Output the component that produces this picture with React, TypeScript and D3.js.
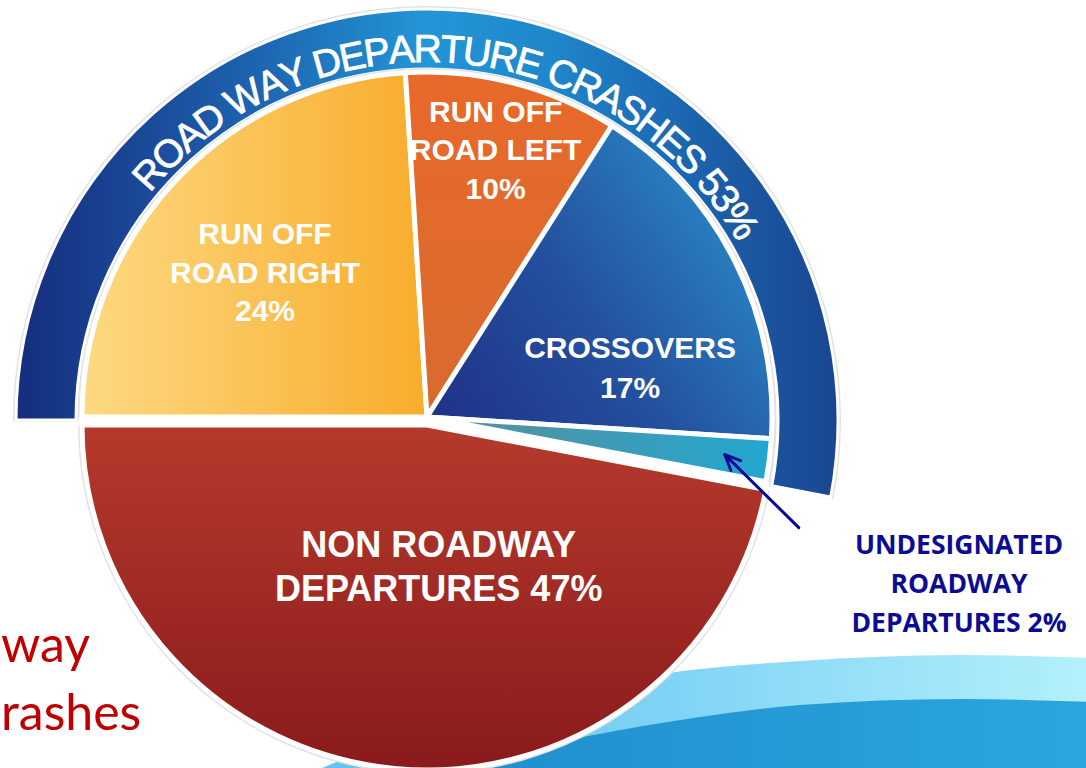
import React, { useMemo } from "react";
import * as d3 from "d3";

// ---------- data ----------
const CATEGORIES = [
  "RUN OFF ROAD RIGHT",
  "RUN OFF ROAD LEFT",
  "CROSSOVERS",
  "UNDESIGNATED ROADWAY DEPARTURES",
  "NON ROADWAY DEPARTURES",
];
const VALUES = [24, 10, 17, 2, 47];
const NAME_LINES = [
  ["RUN OFF", "ROAD RIGHT"],
  ["RUN OFF", "ROAD LEFT"],
  ["CROSSOVERS"],
  ["UNDESIGNATED", "ROADWAY", "DEPARTURES"],
  ["NON ROADWAY", "DEPARTURES"],
];
const IS_ROADWAY = [true, true, true, true, false];
const BAND_TITLE = "ROAD WAY DEPARTURE CRASHES";
const SIDE_TITLE = ["way", "rashes"];

// ---------- layout / style ----------
const W = 1086;
const H = 768;
const CX = 427;
const CY_TOP = 417;
const CY_BOT = 425;
const R = 345;
const BAND_CY = 420;
const BAND_IN = 351;
const BAND_OUT = 411;
const BAND_TEXT_R = 358;
const BAND_FONT_SIZE = 39;
const BAND_LETTER_SPACING = -2;
const BAND_TEXT_SHIFT = -0.01; // radians, centre of the band title relative to band middle

const SLICE_FILL = ["url(#gYellow)", "url(#gOrange)", "url(#gBlue)", "url(#gTeal)", "url(#gRed)"];
// where each in-pie label sits: fraction through slice angle, fraction of radius
const LABEL_PLACE = [
  { a: 0.484, r: 0.63, size: 30, lh: 38.5, pctInline: false },
  { a: 0.5, r: 0.8, size: 30, lh: 38.5, pctInline: false },
  { a: 0.716, r: 0.606, size: 30, lh: 40, pctInline: false },
  null,
  { a: 0.44, r: 0.41, size: 36, lh: 44, pctInline: true },
];
const CALLOUT_INDEX = 3;
const NAVY = "#0b0b94";
const LABEL_FONT = "'Liberation Sans', Arial, Helvetica, sans-serif";

const LIGHT_WAVE: [number, number][] = [
  [250, 800], [420, 730], [560, 692], [667, 673], [800, 661], [960, 655], [1090, 658],
];
const DARK_WAVE: [number, number][] = [
  [330, 800], [460, 762], [583, 737], [700, 717], [800, 705], [960, 699], [1090, 702],
];

function polar(angle: number, r: number): [number, number] {
  return [r * Math.sin(angle), -r * Math.cos(angle)];
}

function measureChars(str: string, font: string): number[] {
  let ctx: CanvasRenderingContext2D | null = null;
  try {
    ctx = document.createElement("canvas").getContext("2d");
  } catch (e) {
    ctx = null;
  }
  return str.split("").map((ch) => {
    if (ctx) {
      ctx.font = font;
      return ctx.measureText(ch).width;
    }
    return ch === " " ? 0.28 * BAND_FONT_SIZE : 0.68 * BAND_FONT_SIZE;
  });
}

export default function App() {
  const total = d3.sum(VALUES);
  const pie = d3
    .pie<number>()
    .sort(null)
    .value((d) => d)
    .startAngle(-Math.PI / 2)
    .endAngle(1.5 * Math.PI);
  const arcsData = pie(VALUES);

  const sliceArc = d3.arc<d3.PieArcDatum<number>>().innerRadius(0).outerRadius(R);
  const rimArc = d3.arc<d3.PieArcDatum<number>>().innerRadius(R).outerRadius(R + 4);

  const roadwaySum = d3.sum(VALUES.filter((_, i) => IS_ROADWAY[i]));
  const bandStart = -Math.PI / 2;
  const bandEnd = bandStart + (2 * Math.PI * roadwaySum) / total;
  const bandArc = d3
    .arc<any>()
    .innerRadius(BAND_IN)
    .outerRadius(BAND_OUT)
    .startAngle(bandStart)
    .endAngle(bandEnd);
  const bandRim = d3
    .arc<any>()
    .innerRadius(BAND_IN - 3)
    .outerRadius(BAND_OUT + 3)
    .startAngle(bandStart - 0.004)
    .endAngle(bandEnd + 0.004);

  const bandLabel = `${BAND_TITLE} ${roadwaySum}%`;
  const bandChars = useMemo(() => {
    const widths = measureChars(bandLabel, `${BAND_FONT_SIZE}px 'Liberation Sans', Arial, sans-serif`);
    const L = d3.sum(widths) + BAND_LETTER_SPACING * (widths.length - 1);
    const thetaC = (bandStart + bandEnd) / 2 + BAND_TEXT_SHIFT;
    let s = thetaC * BAND_TEXT_R - L / 2;
    return bandLabel.split("").map((ch, i) => {
      const mid = s + widths[i] / 2;
      s += widths[i] + BAND_LETTER_SPACING;
      const th = mid / BAND_TEXT_R;
      const [x, y] = polar(th, BAND_TEXT_R);
      return { ch, x, y, rot: (th * 180) / Math.PI };
    });
  }, [bandLabel, bandStart, bandEnd]);

  const waveArea = d3
    .area<[number, number]>()
    .x((d) => d[0])
    .y0(H + 20)
    .y1((d) => d[1])
    .curve(d3.curveMonotoneX);

  // callout arrow
  const cd = arcsData[CALLOUT_INDEX];
  const cMid = (cd.startAngle + cd.endAngle) / 2;
  const [tx, ty] = polar(cMid, R * 0.87);
  const tipX = CX + tx;
  const tipY = CY_TOP + ty;
  const startX = tipX + 74;
  const startY = tipY + 73;
  const ang = Math.atan2(tipY - startY, tipX - startX);
  const headLen = 17;
  const headSpread = 0.42;
  const h1 = [tipX - headLen * Math.cos(ang - headSpread), tipY - headLen * Math.sin(ang - headSpread)];
  const h2 = [tipX - headLen * Math.cos(ang + headSpread), tipY - headLen * Math.sin(ang + headSpread)];

  const calloutLines = [...NAME_LINES[CALLOUT_INDEX]];
  calloutLines[calloutLines.length - 1] += ` ${VALUES[CALLOUT_INDEX]}%`;

  return (
    <svg
      width={W}
      height={H}
      viewBox={`0 0 ${W} ${H}`}
      style={{ position: "absolute", left: 0, top: 0, background: "#fff" }}
    >
      <defs>
        {/* gradients are in the local (centre-translated) coordinates of the pie groups */}
        <linearGradient id="gBand" gradientUnits="userSpaceOnUse" x1={-411} y1={0} x2={411} y2={0}>
          <stop offset="0" stopColor="#152d7d" />
          <stop offset="0.16" stopColor="#1a4a99" />
          <stop offset="0.3" stopColor="#1d66b1" />
          <stop offset="0.5" stopColor="#2396d8" />
          <stop offset="0.65" stopColor="#1f87cb" />
          <stop offset="0.78" stopColor="#1c6cb7" />
          <stop offset="0.9" stopColor="#1b55a0" />
          <stop offset="1" stopColor="#1a4690" />
        </linearGradient>
        <linearGradient id="gYellow" gradientUnits="userSpaceOnUse" x1={-345} y1={0} x2={0} y2={0}>
          <stop offset="0" stopColor="#fdd982" />
          <stop offset="1" stopColor="#f8ac2b" />
        </linearGradient>
        <linearGradient id="gOrange" gradientUnits="userSpaceOnUse" x1={0} y1={-345} x2={0} y2={0}>
          <stop offset="0" stopColor="#e8692a" />
          <stop offset="1" stopColor="#d86a2e" />
        </linearGradient>
        <linearGradient id="gBlue" gradientUnits="userSpaceOnUse" x1={10} y1={0} x2={343} y2={-230}>
          <stop offset="0" stopColor="#1f3388" />
          <stop offset="0.45" stopColor="#24509f" />
          <stop offset="1" stopColor="#2b90cd" />
        </linearGradient>
        <linearGradient id="gTeal" gradientUnits="userSpaceOnUse" x1={10} y1={0} x2={343} y2={0}>
          <stop offset="0" stopColor="#5b8e9a" />
          <stop offset="1" stopColor="#22a7d0" />
        </linearGradient>
        <linearGradient id="gRed" gradientUnits="userSpaceOnUse" x1={0} y1={0} x2={0} y2={343}>
          <stop offset="0" stopColor="#b53a2c" />
          <stop offset="1" stopColor="#8a1a1c" />
        </linearGradient>
        <linearGradient id="gLight" gradientUnits="userSpaceOnUse" x1={250} y1={0} x2={1086} y2={0}>
          <stop offset="0" stopColor="#5dbfee" />
          <stop offset="0.5" stopColor="#7fd3f5" />
          <stop offset="1" stopColor="#b3f0fb" />
        </linearGradient>
        <linearGradient id="gDark" gradientUnits="userSpaceOnUse" x1={300} y1={0} x2={1086} y2={0}>
          <stop offset="0" stopColor="#1f88ca" />
          <stop offset="1" stopColor="#2aa6dd" />
        </linearGradient>
      </defs>

      {/* background waves */}
      <path d={waveArea(LIGHT_WAVE) || ""} fill="url(#gLight)" />
      <path d={waveArea(DARK_WAVE) || ""} fill="url(#gDark)" />

      {/* side title fragments */}
      <g fontFamily="Lato, 'Open Sans', sans-serif" fontSize={50} fill="#c00000">
        <text x={1} y={662}>{SIDE_TITLE[0]}</text>
        <text x={1} y={730}>{SIDE_TITLE[1]}</text>
      </g>

      {/* outer band: roadway departure total */}
      <g transform={`translate(${CX},${BAND_CY})`}>
        <path d={bandRim({}) || ""} fill="#e2e2e2" />
        <path d={bandArc({}) || ""} fill="url(#gBand)" stroke="#fff" strokeWidth={3} />
        <g
          fontFamily={LABEL_FONT}
          fontSize={BAND_FONT_SIZE}
          fill="#fff"
          stroke="#fff"
          strokeWidth={0.8}
          textAnchor="middle"
        >
          {bandChars.map((c, i) =>
            c.ch === " " ? null : (
              <text key={i} transform={`translate(${c.x},${c.y}) rotate(${c.rot})`}>
                {c.ch}
              </text>
            )
          )}
        </g>
      </g>

      {/* pie rim shadow */}
      {arcsData.map((d, i) => {
        const cy = IS_ROADWAY[i] ? CY_TOP : CY_BOT;
        return (
          <g key={CATEGORIES[i]} transform={`translate(${CX},${cy})`}>
            <path d={rimArc(d) || ""} fill="#e3e3e3" />
          </g>
        );
      })}
      {/* pie slices */}
      {arcsData.map((d, i) => {
        const cy = IS_ROADWAY[i] ? CY_TOP : CY_BOT;
        return (
          <g key={CATEGORIES[i] + "-s"} transform={`translate(${CX},${cy})`}>
            <path
              d={sliceArc(d) || ""}
              fill={SLICE_FILL[i]}
              stroke="#fff"
              strokeWidth={5}
              strokeLinejoin="round"
            />
          </g>
        );
      })}

      {/* in-slice labels */}
      {arcsData.map((d, i) => {
        const pl = LABEL_PLACE[i];
        if (!pl) return null;
        const cy = IS_ROADWAY[i] ? CY_TOP : CY_BOT;
        const a = d.startAngle + (d.endAngle - d.startAngle) * pl.a;
        const [px, py] = polar(a, R * pl.r);
        const lines = [...NAME_LINES[i]];
        if (pl.pctInline) lines[lines.length - 1] += ` ${VALUES[i]}%`;
        else lines.push(`${VALUES[i]}%`);
        const n = lines.length;
        const capH = 0.716 * pl.size;
        return (
          <g
            key={CATEGORIES[i] + "-l"}
            fontFamily={LABEL_FONT}
            fontWeight="bold"
            fontSize={pl.size}
            fill="#fff"
            textAnchor="middle"
          >
            {lines.map((ln, j) => (
              <text key={j} x={CX + px} y={cy + py + (j - (n - 1) / 2) * pl.lh + capH / 2}>
                {ln}
              </text>
            ))}
          </g>
        );
      })}

      {/* callout for the thin slice */}
      <g stroke={NAVY} strokeWidth={3} fill="none" strokeLinecap="round" strokeLinejoin="round">
        <line x1={startX} y1={startY} x2={tipX} y2={tipY} />
        <polyline points={`${h1[0]},${h1[1]} ${tipX},${tipY} ${h2[0]},${h2[1]}`} />
      </g>
      <g fontFamily="'Open Sans', sans-serif" fontWeight="bold" fontSize={26.5} fill={NAVY} textAnchor="middle">
        {calloutLines.map((ln, j) => (
          <text key={j} x={959} y={554 + j * 39}>
            {ln}
          </text>
        ))}
      </g>
    </svg>
  );
}
